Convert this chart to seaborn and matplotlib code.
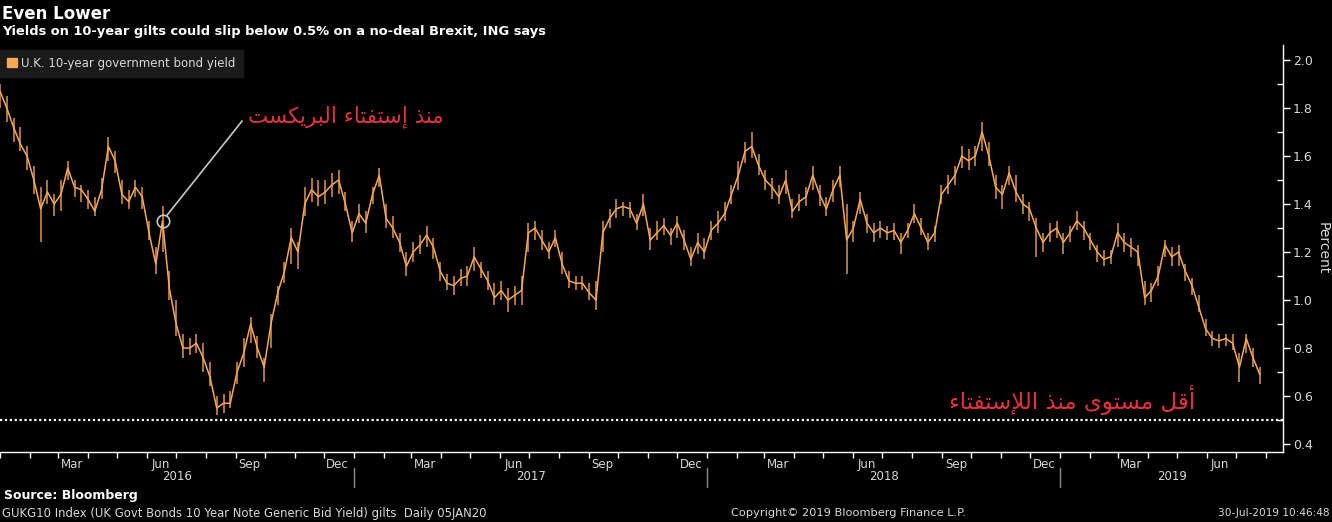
import numpy as np
import pandas as pd
import matplotlib
matplotlib.use('Agg')
import matplotlib.pyplot as plt
import matplotlib.dates as mdates
import matplotlib.transforms as mtransforms
from matplotlib.patches import Rectangle
import seaborn as sns

# --- Data: weekly UK 10y gilt yield (%), Fridays from 1 Jan 2016 ---
start_date = '2016-01-01'
yield_close = [
    1.87, 1.80, 1.72, 1.65, 1.60, 1.50, 1.38, 1.45, 1.40, 1.44,
    1.55, 1.47, 1.46, 1.42, 1.37, 1.46, 1.64, 1.58, 1.44, 1.41,
    1.47, 1.43, 1.28, 1.15, 1.33, 1.05, 0.90, 0.80, 0.80, 0.82,
    0.76, 0.68, 0.55, 0.57, 0.57, 0.70, 0.78, 0.90, 0.80, 0.72,
    0.90, 1.03, 1.12, 1.26, 1.20, 1.40, 1.46, 1.43, 1.45, 1.48,
    1.50, 1.40, 1.28, 1.36, 1.32, 1.44, 1.52, 1.34, 1.30, 1.24,
    1.14, 1.20, 1.23, 1.27, 1.22, 1.12, 1.07, 1.06, 1.09, 1.10,
    1.18, 1.13, 1.08, 1.01, 1.04, 1.00, 1.02, 1.04, 1.28, 1.30,
    1.25, 1.20, 1.26, 1.15, 1.08, 1.07, 1.07, 1.03, 1.00, 1.28,
    1.34, 1.38, 1.39, 1.38, 1.32, 1.40, 1.25, 1.28, 1.31, 1.27,
    1.32, 1.25, 1.17, 1.24, 1.20, 1.29, 1.32, 1.36, 1.44, 1.52,
    1.62, 1.64, 1.56, 1.50, 1.47, 1.43, 1.50, 1.37, 1.41, 1.43,
    1.52, 1.44, 1.38, 1.46, 1.52, 1.25, 1.30, 1.42, 1.32, 1.28,
    1.30, 1.28, 1.29, 1.24, 1.29, 1.36, 1.30, 1.24, 1.28, 1.44,
    1.48, 1.52, 1.60, 1.58, 1.60, 1.70, 1.60, 1.47, 1.44, 1.53,
    1.45, 1.40, 1.38, 1.30, 1.24, 1.28, 1.30, 1.24, 1.28, 1.33,
    1.30, 1.25, 1.20, 1.17, 1.18, 1.28, 1.24, 1.22, 1.20, 1.01,
    1.04, 1.10, 1.23, 1.18, 1.20, 1.12, 1.06, 0.97, 0.88, 0.84,
    0.83, 0.84, 0.82, 0.72, 0.84, 0.76, 0.69,
]
yield_low = [
    1.80, 1.74, 1.66, 1.62, 1.54, 1.44, 1.24, 1.40, 1.35, 1.37,
    1.50, 1.43, 1.41, 1.38, 1.35, 1.42, 1.58, 1.53, 1.40, 1.38,
    1.43, 1.38, 1.25, 1.11, 1.20, 1.00, 0.85, 0.76, 0.77, 0.78,
    0.70, 0.64, 0.52, 0.53, 0.55, 0.65, 0.72, 0.82, 0.76, 0.66,
    0.80, 0.98, 1.07, 1.15, 1.13, 1.35, 1.41, 1.39, 1.40, 1.43,
    1.44, 1.37, 1.24, 1.32, 1.28, 1.40, 1.47, 1.30, 1.26, 1.20,
    1.10, 1.16, 1.19, 1.22, 1.17, 1.08, 1.04, 1.02, 1.06, 1.06,
    1.12, 1.09, 1.04, 0.98, 1.00, 0.95, 0.98, 0.98, 1.20, 1.25,
    1.21, 1.17, 1.22, 1.11, 1.05, 1.04, 1.04, 1.00, 0.96, 1.20,
    1.30, 1.34, 1.35, 1.34, 1.29, 1.35, 1.21, 1.25, 1.27, 1.23,
    1.26, 1.21, 1.14, 1.19, 1.17, 1.25, 1.28, 1.33, 1.40, 1.46,
    1.57, 1.59, 1.52, 1.46, 1.42, 1.40, 1.44, 1.34, 1.37, 1.39,
    1.46, 1.39, 1.35, 1.41, 1.47, 1.11, 1.24, 1.36, 1.28, 1.24,
    1.26, 1.25, 1.25, 1.19, 1.26, 1.32, 1.27, 1.21, 1.24, 1.40,
    1.44, 1.48, 1.55, 1.54, 1.56, 1.62, 1.56, 1.42, 1.38, 1.48,
    1.41, 1.36, 1.33, 1.18, 1.20, 1.24, 1.26, 1.19, 1.24, 1.29,
    1.25, 1.21, 1.16, 1.14, 1.15, 1.22, 1.20, 1.18, 1.14, 0.98,
    0.99, 1.06, 1.18, 1.14, 1.14, 1.08, 1.02, 0.95, 0.85, 0.81,
    0.80, 0.81, 0.79, 0.66, 0.78, 0.72, 0.65,
]
yield_high = [
    1.90, 1.85, 1.76, 1.72, 1.64, 1.56, 1.47, 1.50, 1.44, 1.50,
    1.58, 1.50, 1.48, 1.46, 1.43, 1.51, 1.68, 1.62, 1.50, 1.46,
    1.50, 1.47, 1.33, 1.22, 1.39, 1.12, 1.00, 0.86, 0.84, 0.86,
    0.82, 0.74, 0.60, 0.61, 0.62, 0.74, 0.84, 0.93, 0.85, 0.76,
    0.94, 1.06, 1.16, 1.30, 1.24, 1.47, 1.51, 1.50, 1.50, 1.53,
    1.54, 1.45, 1.33, 1.40, 1.37, 1.47, 1.55, 1.40, 1.35, 1.28,
    1.20, 1.24, 1.27, 1.31, 1.26, 1.16, 1.11, 1.10, 1.13, 1.14,
    1.22, 1.16, 1.12, 1.07, 1.08, 1.05, 1.06, 1.10, 1.32, 1.33,
    1.29, 1.24, 1.29, 1.20, 1.12, 1.10, 1.10, 1.07, 1.08, 1.33,
    1.38, 1.42, 1.41, 1.41, 1.36, 1.44, 1.30, 1.33, 1.34, 1.30,
    1.35, 1.29, 1.22, 1.28, 1.26, 1.33, 1.37, 1.41, 1.48, 1.58,
    1.66, 1.70, 1.61, 1.54, 1.51, 1.48, 1.54, 1.42, 1.44, 1.47,
    1.56, 1.48, 1.43, 1.50, 1.56, 1.40, 1.33, 1.45, 1.36, 1.32,
    1.33, 1.31, 1.32, 1.28, 1.32, 1.40, 1.34, 1.28, 1.31, 1.48,
    1.52, 1.56, 1.64, 1.63, 1.64, 1.74, 1.66, 1.52, 1.48, 1.56,
    1.52, 1.44, 1.41, 1.34, 1.28, 1.32, 1.33, 1.28, 1.31, 1.37,
    1.33, 1.28, 1.23, 1.21, 1.21, 1.32, 1.28, 1.26, 1.23, 1.08,
    1.07, 1.14, 1.25, 1.22, 1.23, 1.15, 1.09, 1.02, 0.92, 0.87,
    0.86, 0.86, 0.86, 0.78, 0.86, 0.80, 0.72,
]
brexit_idx = 24          # week of the referendum (circled point)
floor_level = 0.5        # dotted reference line
y_ticks = [0.4, 0.6, 0.8, 1.0, 1.2, 1.4, 1.6, 1.8, 2.0]
years = [2016, 2017, 2018, 2019]

df = pd.DataFrame({
    'date': pd.date_range(start_date, periods=len(yield_close), freq='7D'),
    'close': yield_close,
    'low': yield_low,
    'high': yield_high,
})

# --- Arabic shaping (matplotlib has no text shaping, so use presentation forms) ---
FORMS = {
    '\u0621': ('\uFE80',),
    '\u0623': ('\uFE83', '\uFE84'),
    '\u0625': ('\uFE87', '\uFE88'),
    '\u0627': ('\uFE8D', '\uFE8E'),
    '\u0628': ('\uFE8F', '\uFE90', '\uFE91', '\uFE92'),
    '\u062A': ('\uFE95', '\uFE96', '\uFE97', '\uFE98'),
    '\u0630': ('\uFEAB', '\uFEAC'),
    '\u0631': ('\uFEAD', '\uFEAE'),
    '\u0633': ('\uFEB1', '\uFEB2', '\uFEB3', '\uFEB4'),
    '\u0641': ('\uFED1', '\uFED2', '\uFED3', '\uFED4'),
    '\u0642': ('\uFED5', '\uFED6', '\uFED7', '\uFED8'),
    '\u0643': ('\uFED9', '\uFEDA', '\uFEDB', '\uFEDC'),
    '\u0644': ('\uFEDD', '\uFEDE', '\uFEDF', '\uFEE0'),
    '\u0645': ('\uFEE1', '\uFEE2', '\uFEE3', '\uFEE4'),
    '\u0646': ('\uFEE5', '\uFEE6', '\uFEE7', '\uFEE8'),
    '\u0648': ('\uFEED', '\uFEEE'),
    '\u0649': ('\uFEEF', '\uFEF0'),
    '\u064A': ('\uFEF1', '\uFEF2', '\uFEF3', '\uFEF4'),
}
LAM_ALEF = {'\u0623': ('\uFEF7', '\uFEF8'),
            '\u0625': ('\uFEF9', '\uFEFA'),
            '\u0627': ('\uFEFB', '\uFEFC')}


def shape_arabic(s):
    units = []
    i = 0
    while i < len(s):
        if s[i] == '\u0644' and i + 1 < len(s) and s[i + 1] in LAM_ALEF:
            units.append(LAM_ALEF[s[i + 1]])
            i += 2
        else:
            units.append(FORMS.get(s[i], s[i]))
            i += 1

    def nf(u):
        return len(u) if isinstance(u, tuple) else 0

    out = []
    for k, u in enumerate(units):
        n = nf(u)
        if n == 0:
            out.append(u)
            continue
        jp = k > 0 and nf(units[k - 1]) == 4 and n >= 2
        jn = n == 4 and k + 1 < len(units) and nf(units[k + 1]) >= 2
        if jp and jn:
            out.append(u[3])
        elif jp:
            out.append(u[1])
        elif jn:
            out.append(u[2])
        else:
            out.append(u[0])
    return ''.join(reversed(out))


note_brexit = 'منذ إستفتاء البريكست'
note_low = 'أقل مستوى منذ اللإستفتاء'

# --- Style ---
sns.set_theme(style='dark', rc={
    'figure.facecolor': 'black', 'axes.facecolor': 'black',
    'savefig.facecolor': 'black', 'axes.edgecolor': 'white',
    'text.color': '#d8d8d8', 'xtick.color': '#d8d8d8', 'ytick.color': '#d8d8d8',
})
plt.rcParams['font.family'] = ['DejaVu Sans']

orange = '#f5a955'
red = '#e0323f'
W, H = 1332, 522

fig = plt.figure(figsize=(W / 100, H / 100), dpi=100)
ax = fig.add_axes([0, 1 - 452 / H, 1283 / W, (452 - 45) / H])

# weekly high-low bars plus the close line
ax.vlines(df['date'], df['low'], df['high'], color=orange, lw=1.1, alpha=0.9)
sns.lineplot(data=df, x='date', y='close', color=orange, lw=1.1, ax=ax)
ax.axhline(floor_level, color='white', lw=1.6, ls=(0, (1, 1.2)))

ax.set_xlim(pd.Timestamp('2016-01-01'), pd.Timestamp('2019-08-19'))
ax.set_ylim(0.367, 2.0625)

# y axis on the right
ax.yaxis.tick_right()
ax.yaxis.set_label_position('right')
ax.set_yticks(y_ticks)
ax.set_yticklabels([f'{v:.1f}' for v in y_ticks])
ax.set_yticks(np.array(y_ticks[:-1]) + 0.1, minor=True)
ax.tick_params(axis='y', which='major', right=True, direction='out', length=5,
               width=1, color='white', labelsize=9, pad=2)
ax.tick_params(axis='y', which='minor', right=True, direction='in', length=4,
               width=1, color='white')

# x axis: month labels mid-month, ticks at month starts
ax.xaxis.set_major_locator(mdates.MonthLocator(bymonth=[3, 6, 9, 12], bymonthday=15))
ax.xaxis.set_major_formatter(mdates.DateFormatter('%b'))
ax.xaxis.set_minor_locator(mdates.MonthLocator())
ax.tick_params(axis='x', which='major', bottom=True, length=0, labelsize=8.5, pad=4)
ax.tick_params(axis='x', which='minor', bottom=True, direction='out', length=4,
               width=1, color='white')
ax.set_xlabel('')
ax.set_ylabel('Percent', rotation=270, labelpad=12, fontsize=10, color='#d8d8d8')
ax.grid(False)

for side in ['top', 'left']:
    ax.spines[side].set_visible(False)
for side in ['bottom', 'right']:
    ax.spines[side].set_color('white')
    ax.spines[side].set_linewidth(1)

# year labels and separators below the axis
trans = mtransforms.blended_transform_factory(ax.transData, ax.transAxes)
ax_h = 452 - 45
x0, x1 = ax.get_xlim()
for yr in years:
    a = max(mdates.date2num(pd.Timestamp(f'{yr}-01-01')), x0)
    b = min(mdates.date2num(pd.Timestamp(f'{yr + 1}-01-01')), x1)
    ax.text((a + b) / 2, -25 / ax_h, str(yr), transform=trans, ha='center',
            va='center', fontsize=8.5, color='#d8d8d8', clip_on=False)
    if yr > years[0]:
        ax.plot([a, a], [-16 / ax_h, -35 / ax_h], transform=trans, color='#8a8a8a',
                lw=1, clip_on=False)

# legend box
handle = Rectangle((0, 0), 1, 1, color=orange)
leg = ax.legend([handle], ['U.K. 10-year government bond yield'], loc='upper left',
                bbox_to_anchor=(0, 1 - 50 / H), bbox_transform=fig.transFigure,
                frameon=True, fancybox=False, fontsize=8.5, handlelength=0.8,
                handleheight=0.8, handletextpad=0.4, borderpad=0.6, borderaxespad=0)
leg.get_frame().set_facecolor('#1a1a1a')
leg.get_frame().set_edgecolor('#1a1a1a')
leg.get_frame().set_alpha(1)
for t in leg.get_texts():
    t.set_color('#d8d8d8')

# annotations
bx = df['date'].iloc[brexit_idx]
by = df['close'].iloc[brexit_idx]
ax.plot([bx], [by], marker='o', ms=9, mfc='none', mec='#c8c8c8', mew=1.2)
ax.annotate(shape_arabic(note_brexit), xy=(bx, by), xycoords='data',
            xytext=(248, H - 117), textcoords='figure pixels', ha='left', va='center',
            fontsize=15.5, color=red,
            arrowprops=dict(arrowstyle='-', color='#c8c8c8', lw=1.2, shrinkA=3,
                            shrinkB=5, relpos=(0, 0.65)))
fig.text(1195 / W, 1 - 400 / H, shape_arabic(note_low), ha='right', va='center',
         fontsize=16.5, color=red)

# titles and footer
fig.text(2 / W, 1 - 14 / H, 'Even Lower', ha='left', va='center', fontsize=12,
         fontweight='bold', color='white')
fig.text(2 / W, 1 - 32 / H, 'Yields on 10-year gilts could slip below 0.5% on a no-deal Brexit, ING says',
         ha='left', va='center', fontsize=9.4, fontweight='bold', color='white')
fig.text(4 / W, 1 - 495 / H, 'Source: Bloomberg', ha='left', va='center', fontsize=9,
         fontweight='bold', color='white')
fig.text(2 / W, 1 - 513 / H,
         'GUKG10 Index (UK Govt Bonds 10 Year Note Generic Bid Yield) gilts  Daily 05JAN20',
         ha='left', va='center', fontsize=8.4, color='#d8d8d8')
fig.text(848 / W, 1 - 513 / H, 'Copyright\u00a9 2019 Bloomberg Finance L.P.', ha='center',
         va='center', fontsize=8.2, color='#d8d8d8')
fig.text(1330 / W, 1 - 513 / H, '30-Jul-2019 10:46:48', ha='right', va='center',
         fontsize=7.6, color='#d8d8d8')

fig.savefig('out.png', dpi=100, facecolor='black')
